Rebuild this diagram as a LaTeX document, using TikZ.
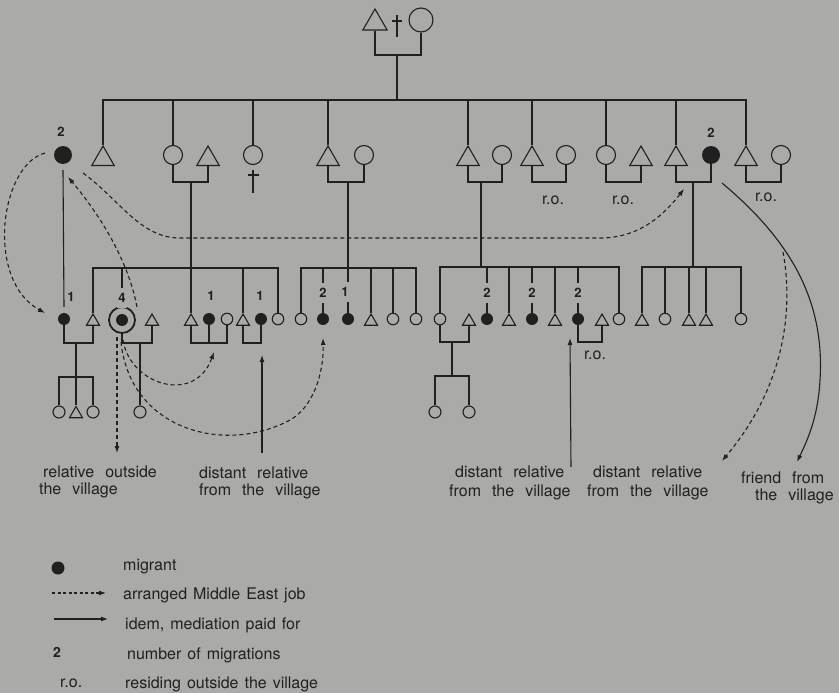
\documentclass[tikz,border=0pt]{standalone}
\usepackage{fontspec}
\setmainfont{TeX Gyre Heros}
\usetikzlibrary{shapes.geometric,arrows.meta,calc}
\definecolor{bg}{RGB}{170,170,166}
\definecolor{ink}{RGB}{32,32,32}
\newcommand\mylabfont{\fontsize{16}{19}\selectfont\spaceskip 11pt plus 1pt\relax}
\newcommand\myleg{\fontsize{16}{19}\selectfont\spaceskip 6pt plus 1pt\relax}
\begin{document}
\begin{tikzpicture}[x=1pt,y=-1pt,
  kin/.style={draw=ink, line width=1.1pt},
  ptri/.style={regular polygon, regular polygon sides=3, draw=ink, line width=1.1pt, inner sep=0pt, minimum size=26pt},
  ptris/.style={ptri, minimum size=15pt},
  pcir/.style={circle, draw=ink, line width=1.1pt, inner sep=0pt, minimum size=19pt},
  pcirs/.style={pcir, minimum size=11.5pt},
  pdot/.style={circle, fill=ink, inner sep=0pt, minimum size=18pt},
  pdots/.style={pdot, minimum size=12pt},
  num/.style={font=\fontsize{13}{13}\selectfont\bfseries, text=ink, inner xsep=1pt, inner ysep=5pt},
  numgap/.style={num, fill=bg},
  ro/.style={font=\fontsize{16}{16}\selectfont, text=ink, inner sep=0pt},
  lab/.style={font=\mylabfont, text=ink, anchor=west, inner sep=0pt},
  leg/.style={font=\myleg, text=ink, anchor=west, inner sep=0pt},
  dsh/.style={draw=ink, line width=1.1pt, dash pattern=on 4pt off 3pt, -{Latex[length=7pt,width=5pt]}},
  sol/.style={draw=ink, line width=1.1pt, -{Latex[length=7pt,width=5pt]}}]
\path[use as bounding box, fill=bg] (0,0) rectangle (839,693);

% ---------- generation 1
\node[ptri, minimum size=28pt] (g1m) at (375,23) {};
\node[pcir, minimum size=24pt] (g1f) at (421,20) {};
\draw[kin] (397,15) -- (397,37) (392,21) -- (402,21);
\coordinate (k1) at (397,55);
\coordinate (s1) at (397,100);
\draw[kin] (g1m.south) |- (k1) -| (g1f.south);
\draw[kin] (k1) -- (s1);

% ---------- generation 2
\node[pdot] (m2a) at (63,155) {};
\node[ptri] (t2a) at (103,159) {};
\node[pcir] (c2b) at (173,155) {};
\node[ptri] (t2b) at (208,159) {};
\node[pcir] (c2c) at (253,155) {};
\node[ptri] (t2d) at (328,159) {};
\node[pcir] (c2d) at (364,155) {};
\node[ptri] (t2e) at (468,159) {};
\node[pcir] (c2e) at (502,155) {};
\node[ptri] (t2f) at (532,159) {};
\node[pcir] (c2f) at (566,155) {};
\node[pcir] (c2g) at (606,155) {};
\node[ptri] (t2g) at (641,159) {};
\node[ptri] (t2h) at (676,159) {};
\node[pdot] (m2h) at (711,155) {};
\node[ptri] (t2i) at (746,159) {};
\node[pcir] (c2i) at (781,155) {};

\foreach \n in {t2a,c2b,c2c,t2d,t2e,t2f,c2g,t2h,t2i} \draw[kin] (s1) -| (\n.north);

\coordinate (k2b) at (191,182);
\coordinate (k2d) at (348,182);
\coordinate (k2e) at (481,182);
\coordinate (k2f) at (549,182);
\coordinate (k2g) at (623,182);
\coordinate (k2h) at (693,182);
\coordinate (k2i) at (764,182);
\draw[kin] (c2b.south) |- (k2b) -| (t2b.south);
\draw[kin] (t2d.south) |- (k2d) -| (c2d.south);
\draw[kin] (t2e.south) |- (k2e) -| (c2e.south);
\draw[kin] (t2f.south) |- (k2f) -| (c2f.south);
\draw[kin] (c2g.south) |- (k2g) -| (t2g.south);
\draw[kin] (t2h.south) |- (k2h) -| (m2h.south);
\draw[kin] (t2i.south) |- (k2i) -| (c2i.south);
\draw[kin] (253,170) -- (253,193) (248,175) -- (259,175);

\node[ro] (ro1) at (553,200) {r.o.};
\node[ro] (ro2) at (623,200) {r.o.};
\node[ro] (ro3) at (766,197) {r.o.};

% ---------- generation 3, left group
\node[pdots] (m3a) at (64,319) {};
\node[ptris] (t3a) at (93,321.5) {};
\node[circle, draw=ink, line width=1.8pt, minimum size=26pt, inner sep=0pt] (dc) at (122,320) {};
\node[pdots] (dci) at (122,320) {};
\node[ptris] (t3b) at (152,321.5) {};
\node[ptris] (t3c) at (191,321.5) {};
\node[pdots] (m3c) at (209,319) {};
\node[pcirs] (c3c) at (227,319) {};
\node[ptris] (t3d) at (243,321.5) {};
\node[pdots] (m3d) at (261,319) {};
\node[pcirs] (c3e) at (278,319) {};

\draw[kin] ([yshift=-6pt]m2a.south) -- ([yshift=6pt]m3a.north);
\coordinate (s2) at (191,268);
\draw[kin] (k2b) -- (t3c.north);
\foreach \n in {t3a,dc,t3d,c3e} \draw[kin] (s2) -| (\n.north);

\coordinate (k3a) at (76,343);
\coordinate (s3a) at (76,377);
\draw[kin] (m3a.south) |- (k3a) -| (t3a.south);
\draw[kin] (k3a) -- (s3a);
\node[pcirs, minimum size=12pt] (c4a) at (59,412) {};
\node[ptris] (t4a) at (76,414) {};
\node[pcirs, minimum size=12pt] (c4b) at (93,412) {};
\foreach \n in {c4a,t4a,c4b} \draw[kin] (s3a) -| (\n.north);

\coordinate (k3b) at (140,343);
\draw[kin] (dc.south) |- (k3b) -| (t3b.south);
\node[pcirs, minimum size=12pt] (c4c) at (140,412) {};
\draw[kin] (k3b) -- (c4c.north);

\coordinate (k3c) at (209,343);
\draw[kin] (t3c.south) |- (k3c) -| (c3c.south);
\draw[kin] (m3c.south) -- (k3c);
\coordinate (k3d) at (252,343);
\draw[kin] (t3d.south) |- (k3d) -| (m3d.south);

% ---------- generation 3, middle group
\node[pcirs] (c3f) at (301,319) {};
\node[pdots] (m3f) at (323,319) {};
\node[pdots] (m3g) at (348,319) {};
\node[ptris] (t3g) at (371,321.5) {};
\node[pcirs] (c3h) at (393,319) {};
\node[pcirs] (c3i) at (416,319) {};
\coordinate (s3) at (348,268);
\draw[kin] (k2d) -- (m3g.north);
\foreach \n in {c3f,m3f,t3g,c3h,c3i} \draw[kin] (s3) -| (\n.north);

% ---------- generation 3, right-middle group
\node[pcirs] (c3j) at (440,319) {};
\node[ptris] (t3j) at (469,321.5) {};
\node[pdots] (m3k) at (487,319) {};
\node[ptris] (t3k) at (509,321.5) {};
\node[pdots] (m3l) at (532,319) {};
\node[ptris] (t3l) at (555,321.5) {};
\node[pdots] (m3m) at (578,319) {};
\node[ptris] (t3m) at (602,321.5) {};
\node[pcirs] (c3n) at (619,319) {};
\coordinate (s4) at (481,267);
\draw[kin] (k2e) -- (s4);
\foreach \n in {c3j,m3k,t3k,m3l,t3l,m3m,c3n} \draw[kin] (s4) -| (\n.north);
\coordinate (k3j) at (452,342);
\coordinate (s5) at (452,376);
\draw[kin] (c3j.south) |- (k3j) -| (t3j.south);
\draw[kin] (k3j) -- (s5);
\node[pcirs, minimum size=12pt] (c4d) at (435,412) {};
\node[pcirs, minimum size=12pt] (c4e) at (469,412) {};
\foreach \n in {c4d,c4e} \draw[kin] (s5) -| (\n.north);
\coordinate (k3m) at (590,342);
\draw[kin] (m3m.south) |- (k3m) -| (t3m.south);
\node[ro] (ro4) at (595,355) {r.o.};

% ---------- generation 3, right group
\node[ptris] (t3o) at (642,321.5) {};
\node[pcirs] (c3o) at (665,319) {};
\node[ptris] (t3p) at (689,321.5) {};
\node[ptris] (t3q) at (706,321.5) {};
\node[pcirs] (c3q) at (741,319) {};
\coordinate (s6) at (693,267);
\draw[kin] (k2h) -- (s6);
\foreach \n in {t3o,c3o,t3p,t3q,c3q} \draw[kin] (s6) -| (\n.north);

% ---------- numbers of migrations
\node[num] (n2a) at (61,132) {2};
\node[num] (n2h) at (711,133) {2};
\node[num] (n3a) at (71,297) {1};
\node[numgap] (n3dc) at (122,298) {4};
\node[num] (n3c) at (211,296) {1};
\node[num] (n3d) at (260,296) {1};
\node[numgap] (n3f) at (323,293) {2};
\node[numgap] (n3g) at (345,292) {1};
\node[numgap] (n3k) at (487,293) {2};
\node[numgap] (n3l) at (532,293) {2};
\node[numgap] (n3m) at (578,293) {2};

% ---------- job arrangements
\draw[dsh] ($(m2a)+(-18,-2)$) .. controls (0,165) and (-15,280) .. ($(m3a)+(-19,-6)$);
\draw[dsh] ($(m2a)+(20,18)$) .. controls (120,200) and (140,238) .. (180,238) -- (600,238)
   .. controls (635,238) and (660,220) .. ($(k2h)+(-9,7)$);
\draw[dsh] ($(dc)+(15,-13)$) .. controls (128,260) and (100,215) .. ($(m2a)+(5,22)$);
\coordinate (out1) at (117,453);
\draw[dsh] ($(dc)+(-5,17)$) -- (out1);
\draw[dsh] ($(dc)+(1,20)$) .. controls (130,385) and (195,405) .. ($(k3c)+(5,9)$);
\draw[dsh] ($(dc)+(-1,22)$) .. controls (130,430) and (225,455) .. (290,420)
   .. controls (312,408) and (324,375) .. ($(m3f)+(0,19)$);
\coordinate (dr1) at (262,453);
\draw[sol] (dr1) -- ($(k3d)+(10,12)$);
\coordinate (dr2) at (571,467);
\draw[sol] (dr2) -- ($(k3m)+(-20,-4)$);
\coordinate (fr) at (797,462);
\draw[sol] ($(m2h)+(11,28)$) .. controls (790,240) and (825,300) .. (820,380)
   .. controls (818,420) and (805,445) .. (fr);
\coordinate (br) at (783,252);
\coordinate (dr3) at (722,461);
\draw[dsh] (br) .. controls (792,300) and (790,380) .. (dr3);

% ---------- labels
\node[lab] (l1a) at (43,472) {relative outside};
\node[lab] (l1b) at (39,490) {the village};
\node[lab] (l2a) at (199,473) {distant relative};
\node[lab] (l2b) at (199,491) {from the village};
\node[lab] (l3a) at (455,472) {distant relative};
\node[lab] (l3b) at (449,492) {from the village};
\node[lab] (l4a) at (593,472) {distant relative};
\node[lab] (l4b) at (587,492) {from the village};
\node[lab] (l5a) at (741,478) {friend from};
\node[lab] (l5b) at (755,496) {the village};

% ---------- legend
\node[pdot, minimum size=13pt] (lg1) at (58,568) {};
\node[leg] (lt1) at (123,567) {migrant};
\coordinate (la2) at (52,593);
\coordinate (lb2) at (106,593);
\draw[dsh, dash pattern=on 3pt off 2.5pt] (la2) -- (lb2);
\node[leg] (lt2) at (123,595) {arranged Middle East job};
\coordinate (la3) at (54,619);
\coordinate (lb3) at (108,619);
\draw[sol] (la3) -- (lb3);
\node[leg] (lt3) at (125,625) {idem, mediation paid for};
\node[font=\fontsize{14}{14}\selectfont\bfseries, text=ink] (lg4) at (57,652) {2};
\node[leg] (lt4) at (127,655) {number of migrations};
\node[leg] (lg5) at (60,683) {r.o.};
\node[leg] (lt5) at (125,684) {residing outside the village};
\end{tikzpicture}
\end{document}
